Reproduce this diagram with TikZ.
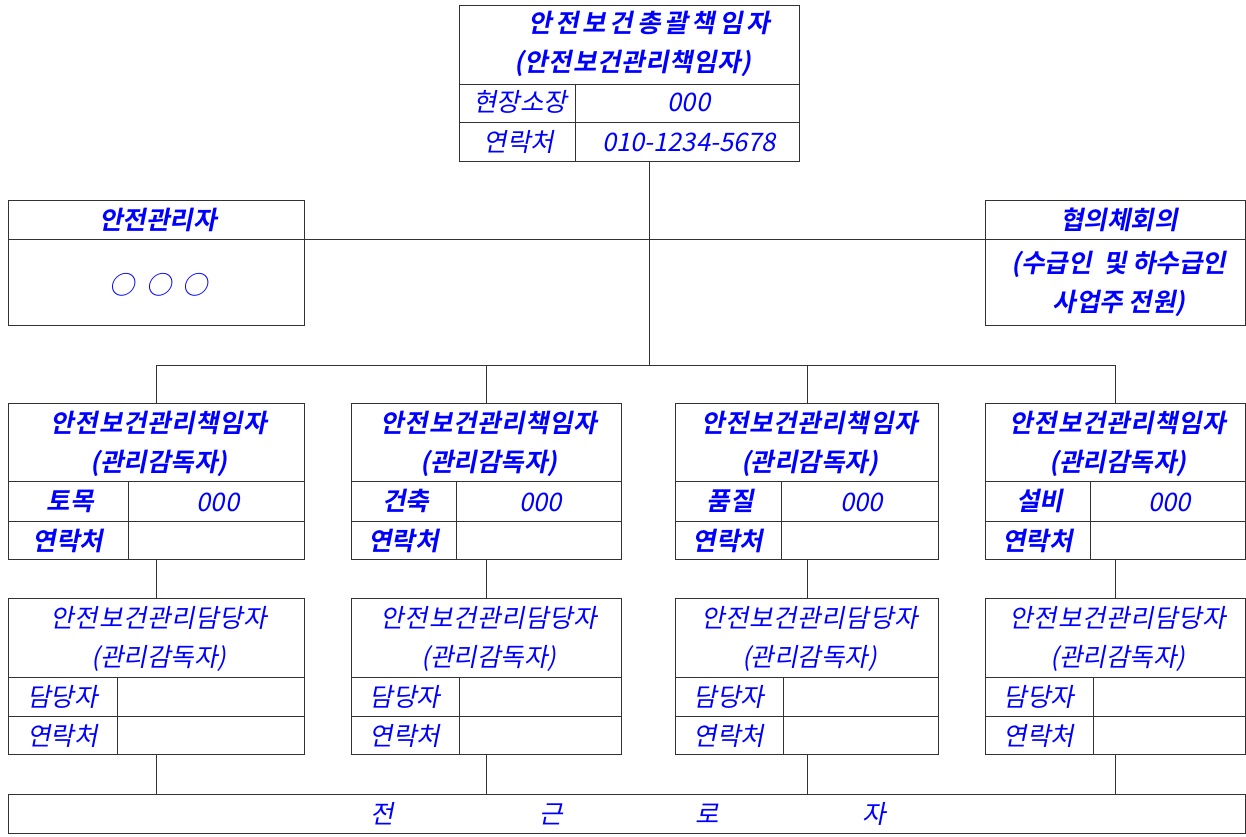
\documentclass[tikz,border=0pt]{standalone}
\usepackage{fontspec}
\setmainfont{Noto Sans CJK KR}[FakeSlant=0.2, BoldFont={Noto Sans CJK KR Bold}, BoldFeatures={FakeSlant=0.2}]
\definecolor{ln}{RGB}{50,50,50}
\definecolor{tx}{RGB}{0,0,255}
\tikzset{
  box/.style={draw=ln, line width=1pt, inner sep=0pt, anchor=north west},
  sep/.style={draw=ln, line width=1pt},
  conn/.style={draw=ln, line width=1pt},
  t/.style={text=tx, inner sep=0pt, font=\fontsize{25.5}{25.5}\selectfont},
  tb/.style={text=tx, inner sep=0pt, font=\bfseries\fontsize{25.5}{25.5}\selectfont},
  wide/.style={execute at begin node={\addfontfeature{LetterSpace=2.5}}},
}
\begin{document}
\begin{tikzpicture}[x=1pt,y=-1pt]
\useasboundingbox (0,0) rectangle (1246,836);
% top box
\node[box, minimum width=340pt, minimum height=156pt] (top) at (459,5) {};
\draw[sep] (459,84) -- (799,84);
\draw[sep] (459,122) -- (799,122);
\draw[sep] (575,84) -- (575,161);
\node[tb] at (649,23) {\addfontfeature{LetterSpace=15}안전보건총괄책임자};
\node[tb, wide] at (633,63) {(안전보건관리책임자)};
\node[t] at (520,102) {현장소장};
\node[t] at (689,102) {000};
\node[t] at (519,142) {연락처};
\node[t] at (689,142) {010-1234-5678};
% left box
\node[box, minimum width=296pt, minimum height=125pt] (safety) at (8,200) {};
\draw[sep] (8,239) -- (304,239);
\node[tb] at (158,220) {안전관리자};
\node[t] at (159,285) {○\hspace{11pt}○\hspace{11pt}○};
% right box
\node[box, minimum width=260pt, minimum height=125pt] (council) at (985,200) {};
\draw[sep] (985,239) -- (1245,239);
\node[tb] at (1119,220) {협의체회의};
\node[tb] at (1119,264) {(수급인\ \ 및 하수급인};
\node[tb] at (1119,303) {사업주 전원)};
% connectors
\coordinate (hub) at (649,365);
\draw[conn] (top.south -| hub) -- (hub);
\draw[conn] (safety.east |- 0,239) -- (council.west |- 0,239);
% bottom box
\node[box, minimum width=1237pt, minimum height=39pt] (workers) at (8,794) {};
\node[t] at (382,814) {전};
\node[t] at (551,814) {근};
\node[t] at (707,814) {로};
\node[t] at (874,814) {자};
% columns
\foreach \i/\l/\r/\sa/\sb/\lab in {1/8/304/128/117/토목, 2/351/621/456/459/건축, 3/675/938/781/783/품질, 4/985/1245/1090/1093/설비} {
  \pgfmathsetmacro\w{\r-\l}
  \pgfmathsetmacro\m{(\l+\r)/2}
  \pgfmathsetmacro\ca{(\l+\sa)/2}
  \pgfmathsetmacro\cb{(\sa+\r)/2}
  \pgfmathsetmacro\da{(\l+\sb)/2}
  \node[box, minimum width=\w pt, minimum height=156pt] (c\i) at (\l,403) {};
  \draw[sep] (\l,481) -- (\r,481);
  \draw[sep] (\l,521) -- (\r,521);
  \draw[sep] (\sa,481) -- (\sa,559);
  \node[tb, wide] at (\m+3,423) {안전보건관리책임자};
  \node[tb] at (\m+3,463) {(관리감독자)};
  \node[tb] at (\ca+2,501) {\lab};
  \node[t] at (\cb+2,502) {000};
  \node[tb] at (\ca,541) {연락처};
  \node[box, minimum width=\w pt, minimum height=156pt] (d\i) at (\l,598) {};
  \draw[sep] (\l,677) -- (\r,677);
  \draw[sep] (\l,716) -- (\r,716);
  \draw[sep] (\sb,677) -- (\sb,754);
  \node[t, wide] at (\m+3,618) {안전보건관리담당자};
  \node[t] at (\m+3,658) {(관리감독자)};
  \node[t] at (\da,697) {담당자};
  \node[t] at (\da,736) {연락처};
  \draw[conn] (c\i.north) -- (c\i.north |- hub);
  \draw[conn] (c\i.south) -- (d\i.north);
  \draw[conn] (d\i.south) -- (d\i.south |- workers.north);
}
\draw[conn] (c1.north |- hub) -- (c4.north |- hub);
\end{tikzpicture}
\end{document}
